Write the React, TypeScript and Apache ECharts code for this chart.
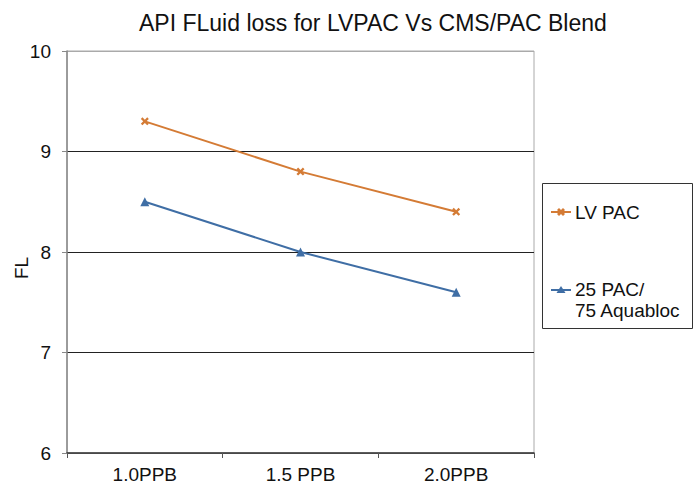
import React, { useEffect, useRef } from "react";
import * as echarts from "echarts";

const categories = ["1.0PPB", "1.5 PPB", "2.0PPB"];
const lvPac = [9.3, 8.8, 8.4];
const pacAquabloc = [8.5, 8.0, 7.6];
const seriesNames = ["LV PAC", "25 PAC/\n75 Aquabloc"];
const colors = ["#D47B35", "#3F6EA5"];
const yMin = 6;
const yMax = 10;
const yStep = 1;

const crossPath =
  "path://M0,2L2,0L5,3L8,0L10,2L7,5L10,8L8,10L5,7L2,10L0,8L3,5Z";

export default function App() {
  const ref = useRef<HTMLDivElement>(null);
  useEffect(() => {
    if (!ref.current) return;
    const chart = echarts.init(ref.current, null, { renderer: "svg" });
    const font = "'Liberation Sans', Arial, Helvetica, sans-serif";
    chart.setOption({
      animation: false,
      backgroundColor: "#fff",
      textStyle: { fontFamily: font },
      title: {
        text: "API FLuid loss for LVPAC Vs CMS/PAC Blend",
        left: 139,
        top: 11,
        padding: 0,
        textStyle: { fontFamily: font, fontSize: 23, fontWeight: "normal", color: "#111" },
      },
      grid: {
        left: 67,
        right: 161,
        top: 51,
        bottom: 40,
        show: true,
        borderColor: "#aaa",
        borderWidth: 1,
      },
      xAxis: {
        type: "category",
        data: categories,
        boundaryGap: true,
        axisLine: { lineStyle: { color: "#333", width: 1.5 } },
        axisTick: { show: true, length: 5, lineStyle: { color: "#555" } },
        axisLabel: { fontSize: 19, color: "#111", margin: 12, fontFamily: font },
        splitLine: { show: false },
      },
      yAxis: {
        type: "value",
        min: yMin,
        max: yMax,
        interval: yStep,
        axisLine: { show: true, lineStyle: { color: "#888", width: 1.5 } },
        axisTick: { show: true, length: 5, lineStyle: { color: "#888" } },
        axisLabel: { fontSize: 19, color: "#111", margin: 16, fontFamily: font },
        splitLine: {
          show: true,
          lineStyle: { color: ["#888", "#222", "#222", "#222", "#aaa"], width: 1 },
        },
      },
      series: [
        {
          name: seriesNames[0],
          type: "line",
          data: lvPac,
          symbol: crossPath,
          symbolSize: 8,
          lineStyle: { color: colors[0], width: 2 },
          itemStyle: { color: colors[0] },
        },
        {
          name: seriesNames[1],
          type: "line",
          data: pacAquabloc,
          symbol: "triangle",
          symbolSize: 9,
          lineStyle: { color: colors[1], width: 2 },
          itemStyle: { color: colors[1] },
        },
      ],
      graphic: [
        {
          type: "text",
          x: 21,
          y: 268,
          rotation: Math.PI / 2,
          style: {
            text: "FL",
            fontSize: 19,
            fontFamily: font,
            fill: "#111",
            align: "center",
            verticalAlign: "middle",
          },
        },
        {
          type: "rect",
          shape: { x: 542.5, y: 183.5, width: 150, height: 145 },
          style: { fill: "none", stroke: "#333", lineWidth: 1 },
        },
        {
          type: "line",
          shape: { x1: 551, y1: 212, x2: 571, y2: 212 },
          style: { stroke: colors[0], lineWidth: 2 },
        },
        {
          type: "polygon",
          shape: {
            points: [
              [557, 210], [559, 208], [561, 210], [563, 208], [565, 210], [563, 212],
              [565, 214], [563, 216], [561, 214], [559, 216], [557, 214], [559, 212],
            ],
          },
          style: { fill: colors[0] },
        },
        {
          type: "text",
          x: 575,
          y: 212,
          style: {
            text: seriesNames[0],
            fontSize: 19,
            fontFamily: font,
            fill: "#111",
            verticalAlign: "middle",
          },
        },
        {
          type: "line",
          shape: { x1: 551, y1: 290, x2: 571, y2: 290 },
          style: { stroke: colors[1], lineWidth: 2 },
        },
        {
          type: "polygon",
          shape: { points: [[561, 286], [565.5, 293], [556.5, 293]] },
          style: { fill: colors[1] },
        },
        {
          type: "text",
          x: 575,
          y: 279,
          style: {
            text: seriesNames[1],
            fontSize: 19,
            lineHeight: 21,
            fontFamily: font,
            fill: "#111",
            verticalAlign: "top",
          },
        },
      ],
    });
    return () => chart.dispose();
  }, []);
  return <div ref={ref} style={{ width: 695, height: 493, position: "fixed", left: 0, top: 0 }} />;
}
